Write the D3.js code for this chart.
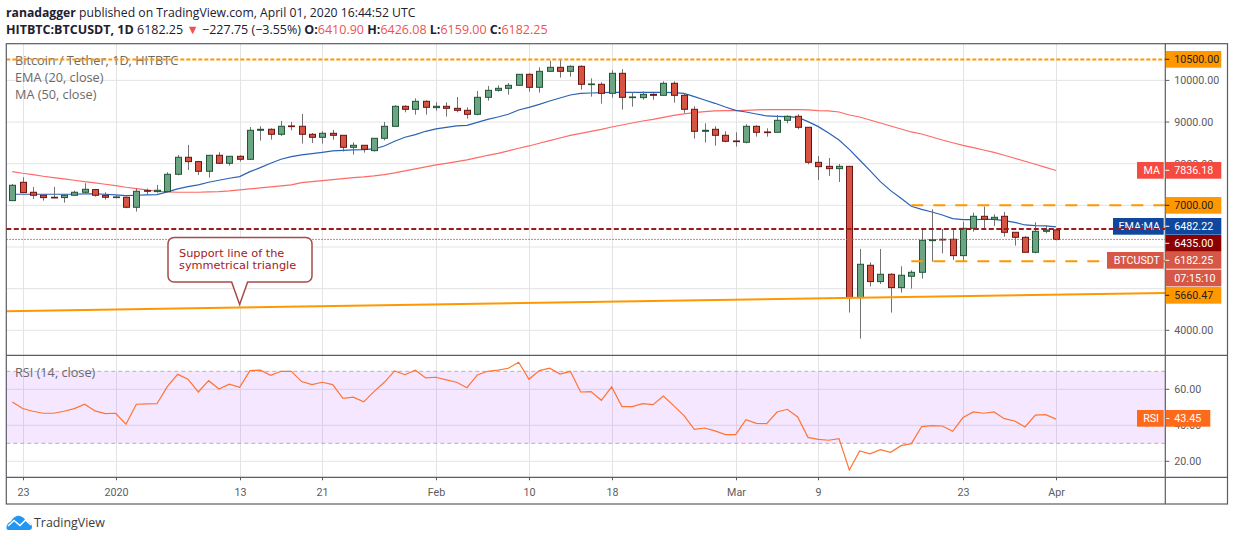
<!DOCTYPE html>
<html><head><meta charset="utf-8">
<script src="https://d3js.org/d3.v7.min.js"></script>
<style>html,body{margin:0;padding:0;background:#fff}svg{display:block}text{font-family:"Open Sans",sans-serif}.ax{font-family:Roboto,sans-serif}</style>
</head><body><svg id="c" width="1234" height="541"></svg>
<script>
const startDay = "2019-12-22";
const opens = [7114,7554,7314,7242,7194,7186,7242,7314,7378,7242,7186,7194,6954,7354,7330,7330,7746,8154,8050,7818,8202,8010,8178,8106,8802,8826,8706,8906,8898,8706,8634,8730,8682,8394,8442,8314,8610,8898,9378,9306,9498,9346,9378,9330,9282,9186,9594,9762,9810,9882,10146,9834,10218,10314,10218,10338,9898,9906,9690,10170,9586,9586,9666,9642,9930,9642,9306,8778,8826,8682,8546,8514,8898,8762,8754,9042,9138,8874,8033,7937,7881,7937,4785,5561,5169,5345,5025,5297,5393,6153,6185,6185,5793,6449,6737,6665,6737,6353,6233,5873,6377,6410.9];
const highs = [7514,7674,7442,7242,7442,7258,7354,7530,7394,7314,7242,7210,7402,7402,7490,7794,8210,8450,8066,8202,8274,8178,8202,8882,8898,8850,9026,9002,9194,8738,8778,8810,8682,8514,8442,8610,9002,9402,9402,9570,9522,9474,9474,9602,9354,9746,9866,9882,9938,10146,10170,10314,10474,10490,10362,10362,10050,9954,10242,10274,9714,9738,9690,9978,9978,9690,9378,8970,8898,8778,8754,8946,8922,8850,9170,9162,9186,8874,8185,8137,7993,7937,5953,5633,5953,5369,5537,5441,6425,6905,6433,6425,6609,6825,6969,6785,6841,6353,6257,6593,6521,6426.08];
const lows = [7114,7306,7154,7114,7170,7066,7234,7298,7210,7138,7170,6930,6850,7250,7306,7314,7722,7850,7730,7666,7994,7954,8050,8090,8554,8578,8666,8802,8482,8498,8482,8578,8290,8218,8266,8290,8562,8898,9234,9178,9178,9274,9130,9234,9082,9162,9514,9730,9658,9882,9730,9706,10218,10066,10090,9778,9610,9442,9586,9298,9370,9538,9538,9642,9466,9218,8602,8506,8434,8514,8410,8490,8650,8650,8754,8970,8826,7986,7609,7705,7561,4425,3801,5049,5113,4425,4905,5001,5241,5649,5849,5689,5649,6369,6425,6505,6249,6033,5873,5849,6329,6159];
const closes = [7482,7306,7242,7186,7178,7242,7314,7386,7242,7194,7202,6954,7338,7338,7362,7746,8154,8050,7818,8202,8010,8178,8106,8802,8826,8706,8898,8890,8706,8634,8730,8682,8394,8442,8346,8610,8898,9378,9306,9498,9354,9378,9330,9282,9186,9594,9762,9810,9882,10146,9834,10218,10314,10218,10338,9906,9914,9690,10170,9594,9602,9666,9642,9930,9642,9306,8778,8802,8682,8538,8530,8898,8754,8746,9042,9138,8874,8034,7929,7881,7937,4785,5585,5169,5345,5025,5321,5393,6161,6177,6169,5793,6449,6737,6665,6713,6353,6233,5873,6377,6409,6182.25];
const ema20 = [7266,7266,7266,7266,7266,7266,7266,7274,7274,7266,7250,7234,7242,7250,7258,7322,7394,7450,7490,7554,7602,7650,7690,7810,7906,8010,8106,8170,8210,8242,8274,8306,8322,8330,8338,8354,8426,8538,8634,8698,8778,8834,8874,8906,8922,8994,9066,9122,9186,9290,9354,9426,9506,9578,9650,9690,9698,9706,9714,9714,9714,9714,9714,9714,9706,9690,9610,9530,9450,9362,9282,9242,9194,9146,9138,9130,9114,9010,8890,8737,8570,8345,8089,7833,7569,7353,7169,6977,6905,6841,6769,6681,6657,6657,6665,6665,6633,6593,6529,6513,6505,6482.22];
const ma50 = [7810,7770,7738,7698,7666,7634,7602,7570,7538,7506,7474,7434,7402,7370,7338,7322,7314,7314,7314,7322,7330,7346,7370,7394,7418,7442,7466,7490,7546,7570,7594,7618,7642,7666,7682,7706,7738,7778,7826,7874,7922,7970,8010,8050,8090,8146,8202,8250,8306,8370,8426,8490,8554,8618,8682,8730,8778,8826,8882,8930,8978,9026,9066,9114,9162,9194,9226,9250,9266,9274,9274,9282,9290,9298,9298,9298,9298,9290,9274,9266,9242,9170,9122,9050,8978,8906,8834,8762,8714,8642,8570,8504,8441,8384,8329,8273,8202,8130,8058,7986,7913,7836.18];
const rsi14 = [53,49.3,47.8,46.7,46.7,47.8,49.3,51.7,48,46.5,46.7,40.6,51.7,51.9,52,61.5,68.3,65.6,58.5,64.8,60.2,62.8,61.1,70.4,70.6,67.8,70,70,64.3,62.6,63.9,62.6,55,55.6,53,58.7,63.9,70.2,68.1,70.6,66.3,66.7,65.2,63.9,60.9,68,70,70.7,71.7,75,65.6,70.4,71.7,68.5,70,58.5,58.7,53.9,61.3,50.4,50.4,52,51.5,56.3,50.9,45.4,37.8,38.5,36.9,34.8,34.8,43.1,41.1,40.9,47.4,48.9,44.6,33.3,32.2,31.7,32.6,15.2,25.7,24.1,26.5,25,28.7,29.8,39.3,39.8,39.6,36.7,44.3,47.4,46.7,47.4,43.7,42.4,39.1,45.7,45.9,43.45];
const priceTicks = [10000,9000,8000,7000,6000,5000,4000];
const priceTickLabels = ["10000.00","9000.00","8000.00","","","","4000.00"];
const rsiTicks = [60,40,20];
const rsiTickLabels = ["60.00","40.00","20.00"];
const timeTicks = ["2019-12-23","2020-01-01","2020-01-13","2020-01-21","2020-02-01","2020-02-10","2020-02-18","2020-03-01","2020-03-09","2020-03-23","2020-04-01"];
const timeTickLabels = ["23","2020","13","21","Feb","10","18","Mar","9","23","Apr"];
const resistance = 10500, rangeTop = 7000, rangeBottom = 5660.47, pivot = 6435;
const supportLeft = 4458, supportRight = 4895;
const rangeStart = "2020-03-18";
const calloutDay = "2020-01-13", calloutPrice = 4620;
const calloutLines = ["Support line of the","symmetrical triangle"];
const lastClose = closes[closes.length-1];

const L=6.3,R=1227.5,AX=1165.3,TOP=43.7,PB=355.3,RB=477.3,BOT=504;
const day=s=>new Date(s+"T00:00:00Z");
const x=d3.scaleUtc().domain([day("2019-12-22"),day("2020-04-01")]).range([12.3,1056]);
const dates=opens.map((_,i)=>d3.utcDay.offset(day(startDay),i));
const y=d3.scaleLinear().domain([4000,10000]).range([330.3,80.4]);
const yr=d3.scaleLinear().domain([20,60]).range([461.3,389.3]);
const svg=d3.select("#c");
const GRID="#e4e4e4",FRAME="#5a5d63",AXT="#5c5c5c",ORANGE="#ff9800",AXF="10.7px";

// header
const h=svg.append("g").attr("fill","#1c2030");
const t1=h.append("text").attr("x",6).attr("y",17).style("font-size","12.2px");
t1.append("tspan").attr("font-weight",700).text("ranadagger");
t1.append("tspan").text(" published on TradingView.com, April 01, 2020 16:44:52 UTC");
const t2=h.append("text").attr("x",6).attr("y",34).style("font-size","12.5px");
t2.append("tspan").attr("font-weight",700).text("HITBTC:BTCUSDT, 1D");
t2.append("tspan").text("  6182.25 ");
t2.append("tspan").attr("fill","#ef5350").text("▼");
t2.append("tspan").text(" −227.75 (−3.55%) ");
[["O:","6410.90"],["H:","6426.08"],["L:","6159.00"],["C:","6182.25"]].forEach(([a,b])=>{
  t2.append("tspan").attr("font-weight",700).text(a);
  t2.append("tspan").attr("fill","#ef5350").text(b+" ");
});

// grids
const g=svg.append("g").attr("stroke",GRID).attr("stroke-width",1);
timeTicks.forEach(d=>{const px=Math.round(x(day(d)))+.5;
  g.append("line").attr("x1",px).attr("x2",px).attr("y1",TOP).attr("y2",RB);});
priceTicks.forEach(v=>g.append("line").attr("x1",L).attr("x2",AX).attr("y1",y(v)).attr("y2",y(v)));
rsiTicks.forEach(v=>g.append("line").attr("x1",L).attr("x2",AX).attr("y1",yr(v)).attr("y2",yr(v)));

// RSI band
svg.append("rect").attr("x",L).attr("width",AX-L).attr("y",yr(70)).attr("height",yr(30)-yr(70)).attr("fill","#9915ff").attr("fill-opacity",.1);
[70,30].forEach(v=>svg.append("line").attr("x1",L).attr("x2",AX).attr("y1",yr(v)).attr("y2",yr(v)).attr("stroke","#b5aebb").attr("stroke-width",1).attr("stroke-dasharray","4 3"));

// legends
const lg=svg.append("g").attr("fill","#6a6a6a").style("font-size","12.7px");
lg.append("text").attr("x",15).attr("y",65).text("Bitcoin / Tether, 1D, HITBTC");
lg.append("text").attr("x",15).attr("y",82).text("EMA (20, close)");
lg.append("text").attr("x",15).attr("y",99).text("MA (50, close)");
lg.append("text").attr("x",15).attr("y",377).text("RSI (14, close)");

// MAs
const line=(sc)=>d3.line().x((d,i)=>x(dates[i])).y(d=>sc(d));
svg.append("path").attr("d",line(y)(ma50)).attr("fill","none").attr("stroke","#ff6a66").attr("stroke-width",1.2);
svg.append("path").attr("d",line(y)(ema20)).attr("fill","none").attr("stroke","#2c62b5").attr("stroke-width",1.2);

// candles
const cg=svg.append("g");
dates.forEach((d,i)=>{
  const up=closes[i]>=opens[i],px=Math.round(x(d))+.5;
  cg.append("line").attr("x1",px).attr("x2",px).attr("y1",y(highs[i])).attr("y2",y(lows[i])).attr("stroke","#737375").attr("stroke-width",1);
  const top=y(Math.max(opens[i],closes[i])),bot=y(Math.min(opens[i],closes[i]));
  cg.append("rect").attr("x",px-3).attr("width",6).attr("y",top).attr("height",Math.max(bot-top,.5))
    .attr("fill",up?"#6ba583":"#d75442").attr("stroke",up?"#225437":"#6b1414").attr("stroke-width",1);
});

// drawings
const hl=(x0,x1,v,col,w,da)=>svg.append("line").attr("x1",x0).attr("x2",x1).attr("y1",y(v)).attr("y2",y(v)).attr("stroke",col).attr("stroke-width",w).attr("stroke-dasharray",da);
hl(L,AX,resistance,ORANGE,2,"4 2");
hl(L,AX,lastClose,"#d65745",1,"1.5 1.5");
const rs=x(day(rangeStart));
hl(rs,AX,rangeTop,ORANGE,2,"12 10");
hl(rs,AX,rangeBottom,ORANGE,2,"12 10");
svg.append("path").attr("d",d3.line()([[L,y(supportLeft)],[AX,y(supportRight)]])).attr("stroke",ORANGE).attr("stroke-width",2).attr("fill","none");

// callout
const cx=x(day(calloutDay)),tipY=y(calloutPrice);
svg.append("path").attr("d",`M174 237.5H306a6 6 0 0 1 6 6V276a6 6 0 0 1-6 6H${cx+8}L${cx},${tipY}L${cx-8},282H174a6 6 0 0 1-6-6V243.5a6 6 0 0 1 6-6Z`)
  .attr("fill","#fff").attr("stroke","#a9494b").attr("stroke-width",1.5);
calloutLines.forEach((s,i)=>svg.append("text").attr("x",179).attr("y",256.5+i*12.7).attr("fill","#a32020").style("font-family","'DejaVu Sans',sans-serif").style("font-size","11.3px").text(s));

// frame
const fr=svg.append("g").attr("stroke",FRAME).attr("stroke-width",1.2).attr("fill","none");
fr.append("rect").attr("x",L).attr("y",TOP).attr("width",R-L).attr("height",BOT-TOP);
fr.append("line").attr("x1",AX).attr("x2",AX).attr("y1",TOP).attr("y2",BOT);
fr.append("line").attr("x1",L).attr("x2",R).attr("y1",PB).attr("y2",PB);
fr.append("line").attr("x1",L).attr("x2",R).attr("y1",RB).attr("y2",RB);

// axes
const axt=svg.append("g").attr("class","ax").style("font-size",AXF).attr("fill",AXT);
const axText=(px,py,s,anchor)=>axt.append("text").attr("class","ax").attr("x",px).attr("y",py).attr("text-anchor",anchor||"start").text(s);
priceTicks.forEach((v,i)=>{
  svg.append("line").attr("x1",AX).attr("x2",AX+4).attr("y1",y(v)).attr("y2",y(v)).attr("stroke",FRAME);
  if(priceTickLabels[i])axText(AX+9,y(v)+3.9,priceTickLabels[i]);
});
rsiTicks.forEach((v,i)=>{
  svg.append("line").attr("x1",AX).attr("x2",AX+4).attr("y1",yr(v)).attr("y2",yr(v)).attr("stroke",FRAME);
  axText(AX+9,yr(v)+3.9,rsiTickLabels[i]);
});
timeTicks.forEach((d,i)=>{
  const px=Math.round(x(day(d)))+.5;
  svg.append("line").attr("x1",px).attr("x2",px).attr("y1",RB).attr("y2",RB+3).attr("stroke",FRAME);
  axText(px,496,timeTickLabels[i],"middle");
});

// RSI line
svg.append("path").attr("d",line(yr)(rsi14)).attr("fill","none").attr("stroke","#ff7433").attr("stroke-width",1.2);

// price tags
const tagText=(px,py,s,col,anchor)=>svg.append("text").attr("class","ax").attr("x",px).attr("y",py).attr("fill",col).attr("text-anchor",anchor||"start").style("font-size",AXF).text(s);
const tag=(y0,val,col,tcol,name,nameX)=>{
  svg.append("rect").attr("x",AX+.5).attr("y",y0).attr("width",55.5).attr("height",16.7).attr("fill",col);
  svg.append("line").attr("x1",AX).attr("x2",AX+4).attr("y1",y0+8.3).attr("y2",y0+8.3).attr("stroke",tcol);
  tagText(AX+9,y0+12.2,val,tcol);
  if(name){
    svg.append("rect").attr("x",nameX).attr("y",y0).attr("width",1163.7-nameX).attr("height",16.7).attr("fill",col);
    tagText(1160,y0+12.2,name,"#fff","end");
  }
};
tag(51,"10500.00",ORANGE,"#222");
tag(162,"7836.18","#f44a3f","#fff","MA",1137);
tag(197,"7000.00",ORANGE,"#222");
tag(218,"6482.22","#0f479f","#fff","EMA:MA",1113);
tag(235,"6435.00","#8b0000","#fff");
tag(252,"6182.25","#d65745","#fff","BTCUSDT",1107);
svg.append("rect").attr("x",AX+.5).attr("y",269.7).attr("width",55.5).attr("height",16.7).attr("fill","#d65745");
tagText(AX+9,281.9,"07:15:10","#fff");
tag(287,"5660.47",ORANGE,"#222");
// RSI tag
svg.append("rect").attr("x",AX+.5).attr("y",410).attr("width",44.5).attr("height",16.7).attr("fill","#ff6a1a");
svg.append("rect").attr("x",1137).attr("y",410).attr("width",26.7).attr("height",16.7).attr("fill","#ff6a1a");
tagText(1159,422.2,"RSI","#fff","end");
tagText(AX+9,422.2,"43.45","#fff");
svg.append("line").attr("x1",AX+1).attr("x2",AX+4).attr("y1",418.5).attr("y2",418.5).attr("stroke","#fff");

// pivot dashed line runs over the EMA:MA pane label
hl(L,AX,pivot,"#9c1c1c",2,"5 2.5");

// logo
svg.append("path").attr("d","M6.5 528 C6.5 524 9 522 11 521.5 C13 517 18 514.5 21 516.5 C23.5 517 25 519 25.5 521 C29 521.5 32 524 32 527 C32 529 31 530 29 530 H9 C7 530 6.5 529 6.5 528Z").attr("fill","#2196f3");
svg.append("path").attr("d","M8 526 L14 520.5 L20 525.5 L25.5 520 L31 525").attr("fill","none").attr("stroke","#fff").attr("stroke-width",1.5);
svg.append("text").attr("x",34).attr("y",527).attr("fill","#3c3c3c").style("font-size","12.4px").text("TradingView");
</script></body></html>
